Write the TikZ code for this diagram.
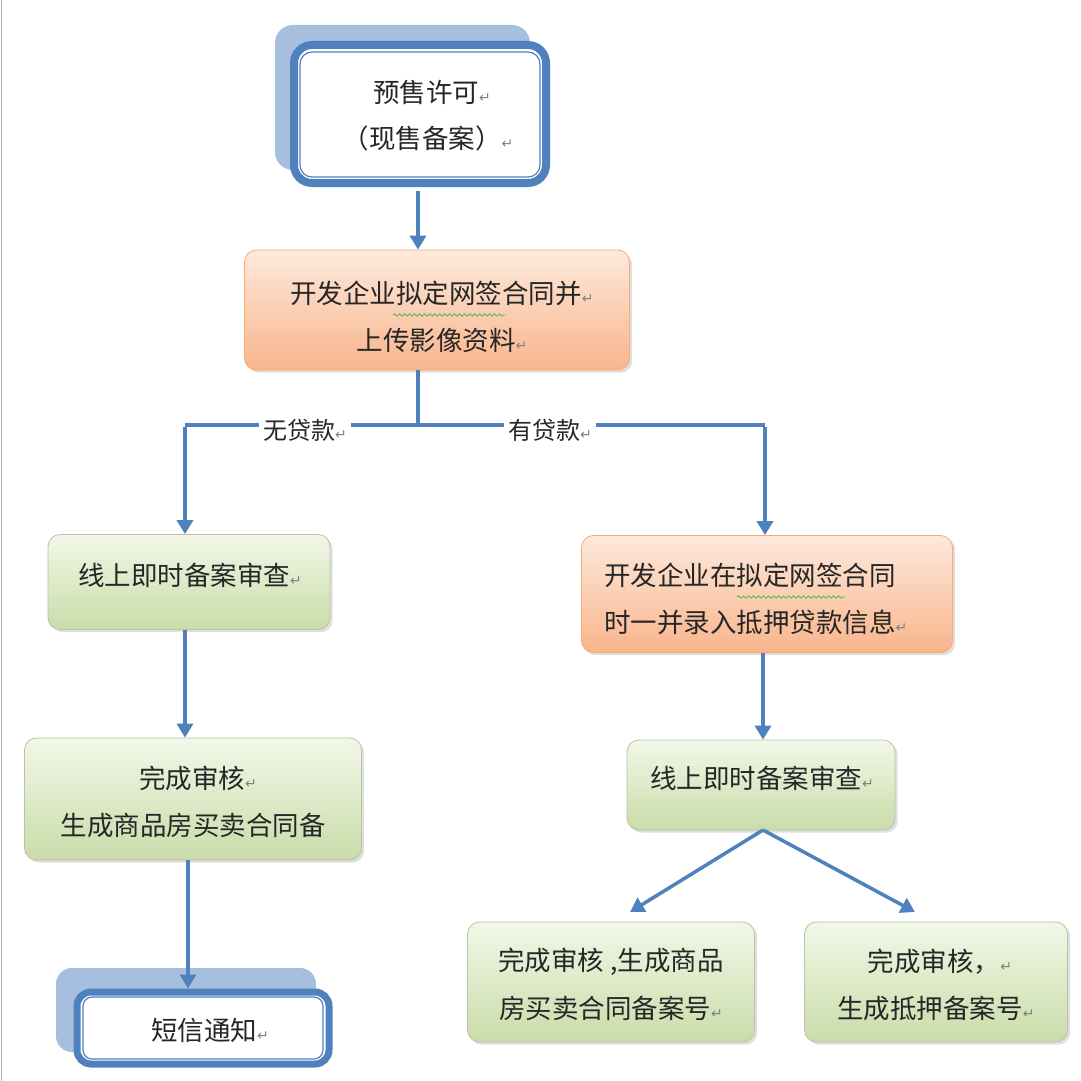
\documentclass[tikz,border=0pt]{standalone}
\usepackage{fontspec}
\setmainfont{Noto Sans CJK SC}
\newfontfamily\symf{DejaVu Sans}
\usetikzlibrary{shadows,decorations.pathmorphing,arrows.meta}
\definecolor{bl}{HTML}{4F81BD}
\definecolor{shb}{HTML}{A7BFDE}
\definecolor{og1}{HTML}{FDE9DC}
\definecolor{og2}{HTML}{F9B58C}
\definecolor{gr1}{HTML}{F2F7E8}
\definecolor{gr2}{HTML}{C9DCA9}
\newcommand{\rt}{{\symf\fontsize{14}{14}\selectfont\color{gray}↵}}
\tikzset{
 orbox/.style={draw=og2!80!orange,line width=0.8pt,rounded corners=12pt,top color=og1,bottom color=og2,drop shadow={opacity=0.25}},
 grbox/.style={draw=gr2!70!black!60,line width=0.8pt,rounded corners=12pt,top color=gr1,bottom color=gr2,drop shadow={opacity=0.25}},
 conn/.style={draw=bl,line width=3.5pt},
 arr/.style={conn,-{Triangle[length=14pt,width=16pt]}},
 txt/.style={font=\fontsize{26.5}{26.5}\selectfont,text=black!85,inner sep=0pt},
 lbl/.style={font=\fontsize{24}{24}\selectfont,text=black!85,fill=white,inner sep=4pt},
 wavy/.style={draw=green!60!black!70,line width=0.8pt,decorate,decoration={snake,amplitude=1.2pt,segment length=5pt}}
}
\begin{document}
\begin{tikzpicture}[x=1pt,y=-1pt]
\useasboundingbox (0,0) rectangle (1080,1081);
\fill[white] (0,0) rectangle (1080,1081);
\draw[gray!60,line width=1pt] (1,0)--(1,1081);
% top box
\fill[shb,rounded corners=18pt] (275,25) rectangle (530,170);
\node[draw=bl,line width=8pt,rounded corners=18pt,fill=white,minimum width=252pt,minimum height=138pt] (top) at (420,114) {};
\draw[bl,line width=1.2pt,rounded corners=12pt] (300,52) rectangle (540,177);
\node[txt] (t1) at (432,92) {预售许可\rt};
\node[txt] (t2) at (428,138) {（现售备案）\rt};
% orange 1
\node[orbox,minimum width=385pt,minimum height=120pt] (o1) at (437,310) {};
\node[txt] at (442,293) {开发企业拟定网签合同并\rt};
\node[txt] at (442,340) {上传影像资料\rt};
\draw[wavy] (393,315)--(505,315);
% split
\coordinate (sp) at (418,425);
\coordinate (L) at (185,425);
\coordinate (R) at (765,425);
\draw[conn] (o1.south-|sp) -- (sp);
\draw[conn] (L) -- (R);
\node[lbl] (n1) at (305,430) {无贷款\rt};
\node[lbl] (n2) at (550,430) {有贷款\rt};
\draw[arr] (top.south-|sp) ++(0,4) -- (o1.north-|sp);
% left branch
\node[grbox,minimum width=282pt,minimum height=95pt] (g1) at (189,582) {};
\node[txt,anchor=west] at (78,575) {线上即时备案审查\rt};
\draw[arr] ([yshift=-1.75pt]L) -- (g1.north-|L);
\node[grbox,minimum width=337pt,minimum height=122pt] (g2) at (193,799) {};
\node[txt] at (198,778) {完成审核\rt};
\node[txt] at (193,825) {生成商品房买卖合同备};
\draw[arr] (g1.south-|L) -- (g2.north-|L);
\fill[shb,rounded corners=16pt] (56,968) rectangle (316,1052);
\node[draw=bl,line width=7pt,rounded corners=14pt,fill=white,minimum width=252pt,minimum height=72pt] (sms) at (203,1028) {};
\draw[bl,line width=1.2pt,rounded corners=9pt] (83,997) rectangle (323,1059);
\node[txt] at (210,1030) {短信通知\rt};
\draw[arr] ([xshift=3pt]g2.south-|L) -- ([xshift=3pt]sms.north-|L);
% right branch
\node[orbox,minimum width=371pt,minimum height=117pt] (o2) at (767,594) {};
\node[txt,anchor=west] at (604,575) {开发企业在拟定网签合同};
\node[txt,anchor=west] at (604,622) {时一并录入抵押贷款信息\rt};
\draw[wavy] (737,597)--(845,597);
\draw[arr] ([yshift=-1.75pt]R) -- (o2.north-|R);
\node[grbox,minimum width=268pt,minimum height=90pt] (g3) at (761,785) {};
\node[txt] at (762,778) {线上即时备案审查\rt};
\draw[arr] (o2.south-|g3) ++(2,0) -- ([xshift=2pt]g3.north);
\node[grbox,minimum width=287pt,minimum height=120pt] (g4) at (611,982) {};
\node[txt] at (611,962) {完成审核 ,生成商品};
\node[txt] at (611,1008) {房买卖合同备案号\rt};
\node[grbox,minimum width=263pt,minimum height=120pt] (g5) at (936,982) {};
\node[txt] at (940,962) {完成审核，\rt};
\node[txt] at (936,1008) {生成抵押备案号\rt};
\coordinate (bs) at (763,830);
\draw[arr] (bs) -- (630,912);
\draw[arr] (bs) -- (915,912);
\end{tikzpicture}
\end{document}
